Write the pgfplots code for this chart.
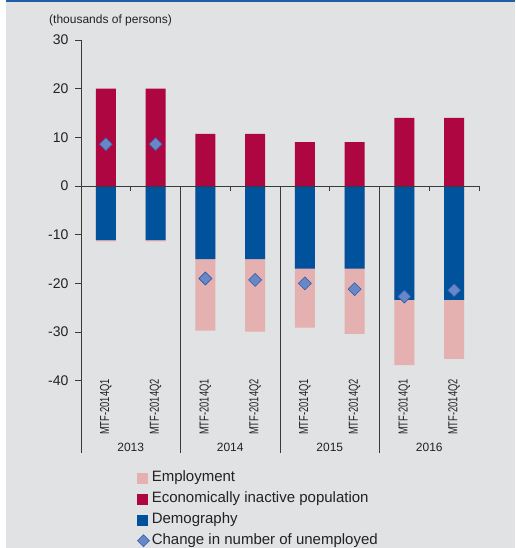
\documentclass[border=0pt]{standalone}
\usepackage{pgfplots}
\pgfplotsset{compat=1.18}
\usepackage{pgfplotstable}
\usepackage{fontspec}
\setmainfont{Liberation Sans}
\newfontfamily\condensed[FakeStretch=0.72]{Liberation Sans}
\definecolor{bg}{HTML}{E1E2E4}
\definecolor{topblue}{HTML}{1F5FA3}
\definecolor{inact}{HTML}{AE0640}
\definecolor{demo}{HTML}{00529C}
\definecolor{emp}{HTML}{E5B0B0}
\definecolor{diafill}{HTML}{6787C6}
\definecolor{diadraw}{HTML}{2C5BA8}
\definecolor{axcol}{HTML}{3A3A3A}
\definecolor{txt}{HTML}{222222}

\pgfplotstableread{
x inact dem emp chg
0 20.0 -11.1 -0.3 8.6
1 20.0 -11.1 -0.3 8.6
2 10.7 -15.0 -14.7 -19.0
3 10.7 -15.0 -14.9 -19.3
4 9.0 -17.0 -12.1 -20.0
5 9.0 -17.0 -13.4 -21.2
6 14.0 -23.4 -13.4 -22.7
7 14.0 -23.4 -12.1 -21.4
}\datatab

\begin{document}
\begin{tikzpicture}
\useasboundingbox (0,0) rectangle (515pt,-548pt);
\fill[white] (0,0) rectangle (515pt,-548pt);
\fill[bg] (6pt,0) rectangle (515pt,-548pt);
\fill[topblue] (6pt,0) rectangle (515pt,-2pt);
\node[anchor=west, inner sep=0pt, text=txt, font=\fontsize{12}{14}\selectfont] at (49pt,-20pt) {(thousands of persons)};
\begin{axis}[
  at={(81pt,-453pt)}, anchor=south west,
  scale only axis, width=398pt, height=413pt,
  xmin=-0.5, xmax=7.5, ymin=-54.86, ymax=30,
  clip=false,
  axis line style={draw=none},
  tick pos=left, tick align=outside,
  major tick length=6pt,
  xtick={0,...,7},
  xticklabels={MTF-2014Q1,MTF-2014Q2,MTF-2014Q1,MTF-2014Q2,MTF-2014Q1,MTF-2014Q2,MTF-2014Q1,MTF-2014Q2},
  xtick style={draw=none},
  xticklabel style={rotate=90, anchor=west, inner sep=0pt, text=txt, font=\condensed\fontsize{13}{14}\selectfont},
  xticklabel shift=-24pt,
  ytick={-40,-30,-20,-10,0,10,20,30},
  yticklabels={-40,-30,-20,-10,0,10,20,30},
  ytick style={axcol, line width=0.8pt},
  yticklabel style={text=txt, font=\fontsize{14}{16}\selectfont},
  yticklabel shift=3pt,
  legend cell align=left,
  legend style={at={(axis description cs:0,0)}, anchor=north west, xshift=53pt, yshift=-15pt,
    draw=none, fill=none, row sep=6pt, font=\fontsize{15}{17}\selectfont,
    nodes={inner sep=0pt, text=txt, text height=11pt, text depth=4pt},
    /tikz/every odd column/.append style={column sep=2pt}},
]
\addlegendimage{legend image code/.code={\path (0pt,0) (12pt,0); \fill[emp] (0pt,-5pt) rectangle (10pt,5pt);}}
\addlegendentry{Employment}
\addlegendimage{legend image code/.code={\path (0pt,0) (12pt,0); \fill[inact] (0pt,-5pt) rectangle (10pt,5pt);}}
\addlegendentry{Economically inactive population}
\addlegendimage{legend image code/.code={\path (0pt,0) (12pt,0); \fill[demo] (0pt,-5pt) rectangle (10pt,5pt);}}
\addlegendentry{Demography}
\addlegendimage{legend image code/.code={\path (0pt,0) (12pt,0); \filldraw[fill=diafill, draw=diadraw, line width=0.6pt] (6pt,6pt) -- (12pt,0pt) -- (6pt,-6pt) -- (0pt,0pt) -- cycle;}}
\addlegendentry{Change in number of unemployed}

\addplot[ybar, bar width=20pt, bar shift=0pt, fill=emp, draw=none, forget plot]
  table[x=x, y expr=\thisrow{dem}+\thisrow{emp}] {\datatab};
\addplot[ybar, bar width=20pt, bar shift=0pt, fill=inact, draw=none, forget plot]
  table[x=x, y=inact] {\datatab};
\addplot[ybar, bar width=20pt, bar shift=0pt, fill=demo, draw=none, forget plot]
  table[x=x, y=dem] {\datatab};

\draw[axcol, line width=0.8pt] (axis cs:-0.5,30) -- (axis cs:-0.5,-54.86);
\draw[axcol, line width=0.8pt] (axis cs:-0.5,0) -- (axis cs:7.5,0);
\draw[axcol, line width=0.6pt] (axis cs:1.5,0) -- (axis cs:1.5,-54.86);
\draw[axcol, line width=0.6pt] (axis cs:3.5,0) -- (axis cs:3.5,-54.86);
\draw[axcol, line width=0.6pt] (axis cs:5.5,0) -- (axis cs:5.5,-54.86);
\draw[axcol, line width=0.8pt] (axis cs:0.5,0) -- ([yshift=-5pt]axis cs:0.5,0);
\draw[axcol, line width=0.8pt] (axis cs:2.5,0) -- ([yshift=-5pt]axis cs:2.5,0);
\draw[axcol, line width=0.8pt] (axis cs:4.5,0) -- ([yshift=-5pt]axis cs:4.5,0);
\draw[axcol, line width=0.8pt] (axis cs:6.5,0) -- ([yshift=-5pt]axis cs:6.5,0);
\draw[axcol, line width=0.8pt] (axis cs:7.5,0) -- ([yshift=-5pt]axis cs:7.5,0);

\addplot[only marks, mark=square*, mark size=4.6pt,
  mark options={rotate=45, fill=diafill, draw=diadraw, line width=0.6pt}, forget plot]
  table[x=x, y=chg] {\datatab};

\node[text=txt, font=\fontsize{12}{14}\selectfont] at (axis cs:0.5,-53.6) {2013};
\node[text=txt, font=\fontsize{12}{14}\selectfont] at (axis cs:2.5,-53.6) {2014};
\node[text=txt, font=\fontsize{12}{14}\selectfont] at (axis cs:4.5,-53.6) {2015};
\node[text=txt, font=\fontsize{12}{14}\selectfont] at (axis cs:6.5,-53.6) {2016};
\end{axis}
\end{tikzpicture}
\end{document}
